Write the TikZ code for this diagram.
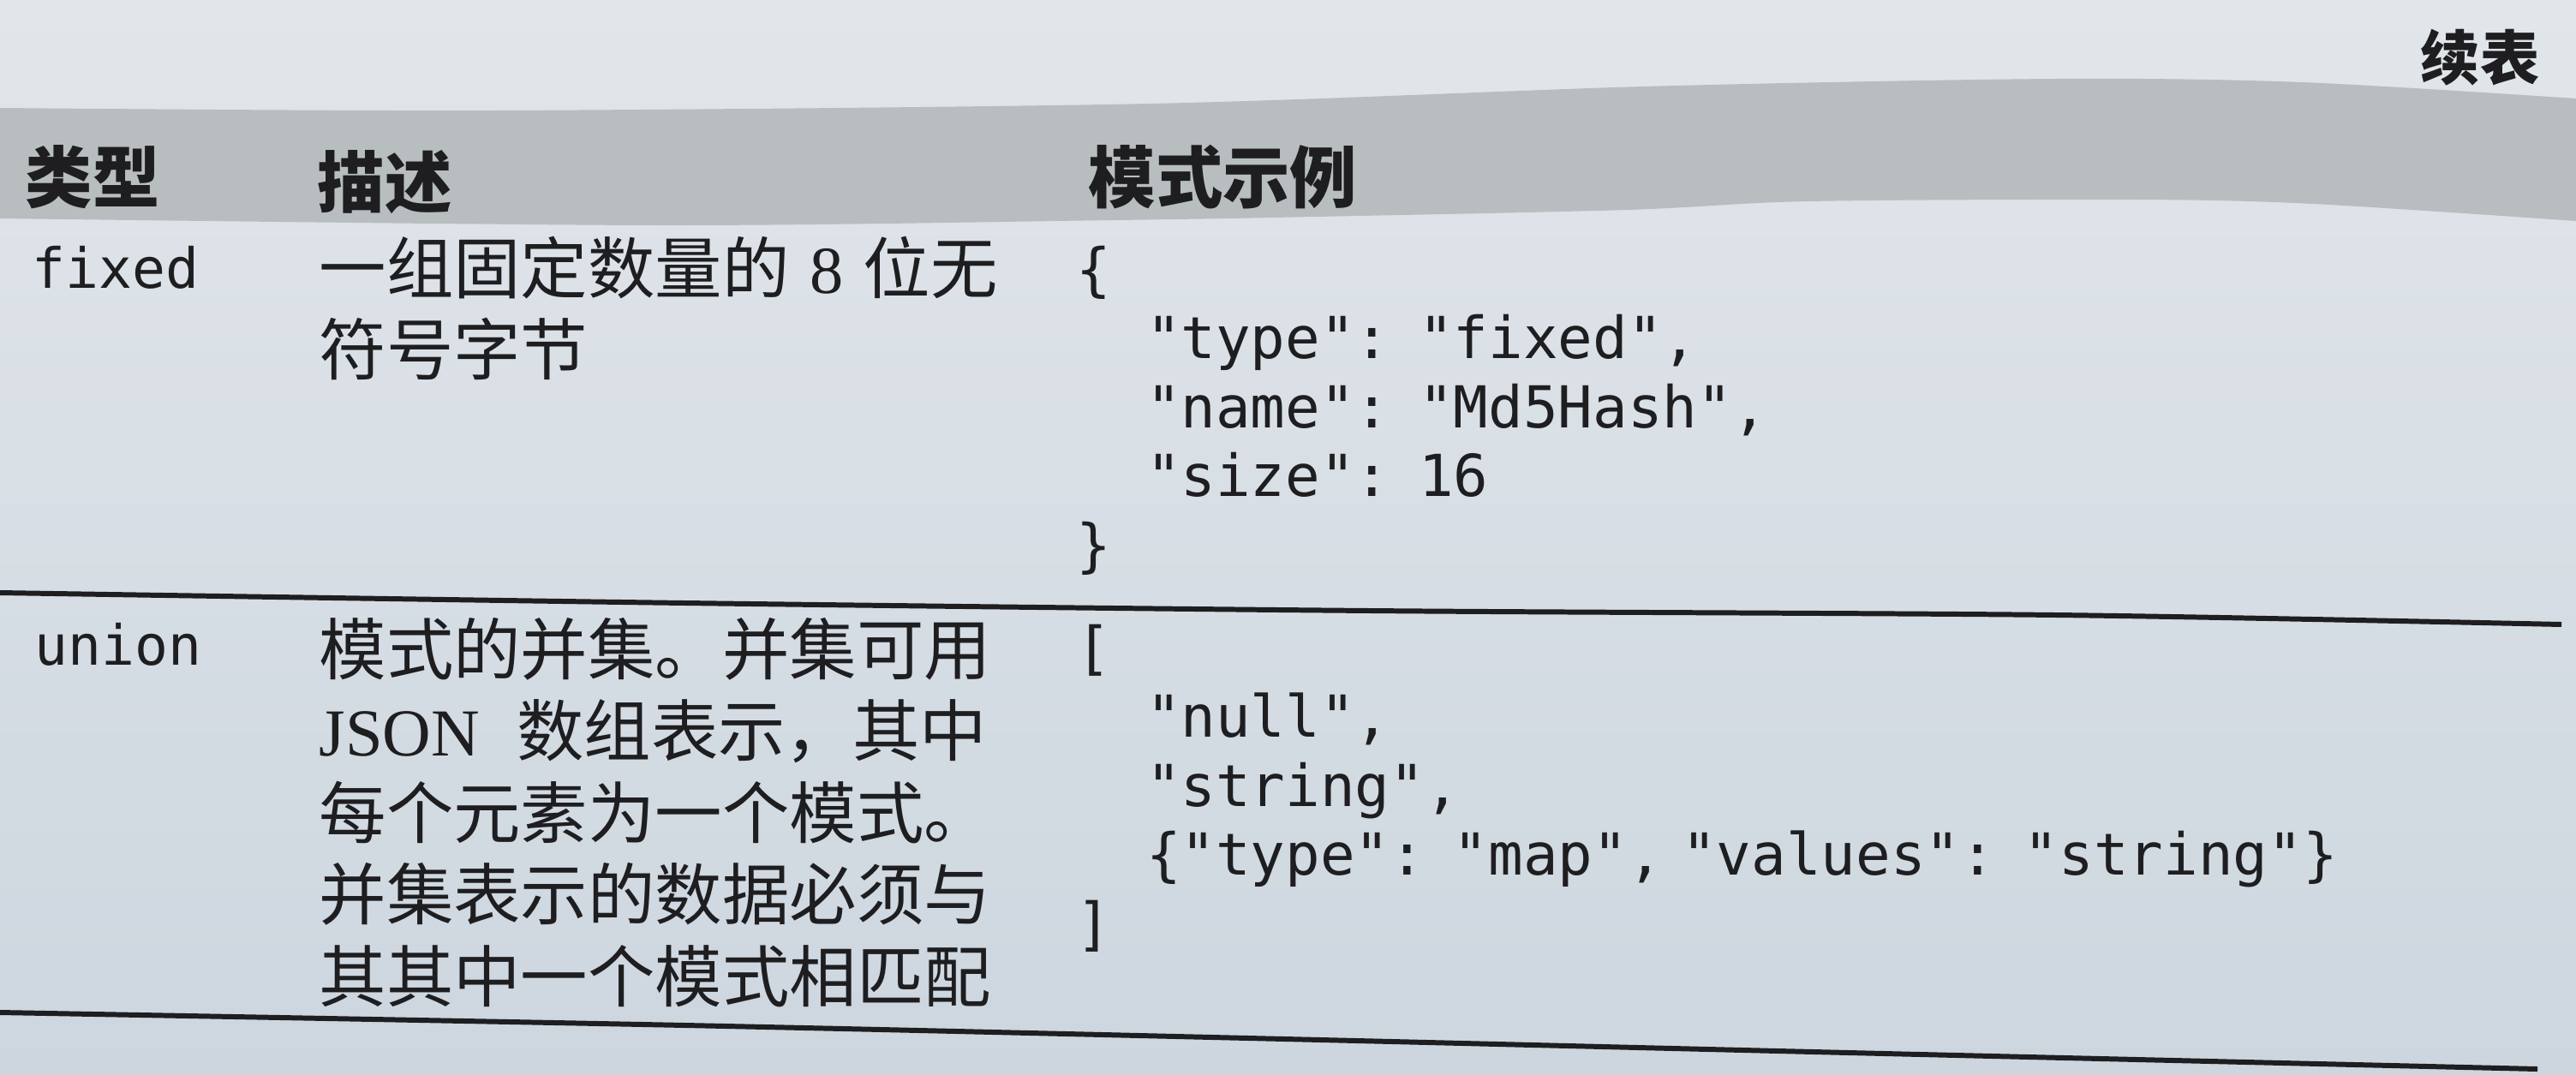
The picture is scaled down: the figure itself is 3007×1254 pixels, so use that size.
\documentclass[tikz,border=0pt]{standalone}
\usepackage{fontspec}
\setmainfont{Liberation Serif}
\newfontfamily\cjk{Noto Sans CJK SC}
\newfontfamily\codefont{DejaVu Sans Mono}
\setlength{\parindent}{0pt}
\newcommand\ind{\hspace*{1.204em}}
\definecolor{papertop}{RGB}{225,230,234}
\definecolor{paperbot}{RGB}{205,214,223}
\definecolor{band}{RGB}{184,189,192}
\definecolor{ink}{RGB}{30,30,32}

\begin{document}
\begin{tikzpicture}[x=0.01cm, y=-0.01cm,
    head/.style={anchor=base west, inner sep=0pt, text=ink,
        font=\cjk\bfseries\fontsize{22.3}{27}\selectfont},
    kind/.style={anchor=base west, inner sep=0pt, text=ink,
        font=\codefont\fontsize{18.4}{22.8}\selectfont},
    desc/.style={anchor=base west, inner sep=0pt, text=ink, text width=9cm, align=left,
        font=\cjk\fontsize{22.3}{27.2}\selectfont},
    code/.style={anchor=base west, inner sep=0pt, text=ink, text width=16cm, align=left,
        font=\codefont\fontsize{19.2}{22.9}\selectfont},
    rule/.style={draw=ink, line width=1.7pt}]
    \useasboundingbox (0,0) rectangle (3007,1254);
    \shade[top color=papertop, bottom color=paperbot] (0,0) rectangle (3007,1254);
    % header band
    \fill[band] plot[smooth] coordinates {(0,126) (576,129) (1343,121) (1919,101) (2399,92) (2687,96) (3007,115)}
        -- plot[smooth] coordinates {(3007,258) (2700,238) (2495,233) (2111,235) (1900,245) (1535,253) (1300,257) (768,263) (0,255)}
        -- cycle;
    %
    \draw
    (2825,93)node(cont)[head, font=\cjk\bfseries\fontsize{19.7}{24}\selectfont]{续表}
    (29,236)node(h1)[head]{类型}
    (370,242)node(h2)[head]{描述}
    (1270,236)node(h3)[head]{模式示例}
    (37,336)node(t1)[kind]{fixed}
    (372,342)node(d1)[desc]{一组固定数量的\hspace{0.3em}{\rmfamily 8}\hspace{0.3em}位无\\符号字节}
    (1256,338)node(c1)[code]{\{\\\ind"type": "fixed",\\\ind"name": "Md5Hash",\\\ind"size": 16\\\}}
    (40,776)node(t2)[kind]{union}
    (372,787)node(d2)[desc]{模式的并集。并集可用\\{\rmfamily JSON}\hspace{0.55em}数组表示，其中\\每个元素为一个模式。\\并集表示的数据必须与\\其其中一个模式相匹配}
    (1256,780)node(c2)[code]{[\\\ind"null",\\\ind"string",\\\ind\{"type": "map", "values": "string"\}\\]};
    %
    \draw[rule] plot[smooth] coordinates {(0,692) (800,704) (1600,713) (2400,718) (2990,729)};
    \draw[rule] plot[smooth] coordinates {(0,1182) (800,1197) (1500,1213) (2200,1230) (2962,1248)};
\end{tikzpicture}
\end{document}
